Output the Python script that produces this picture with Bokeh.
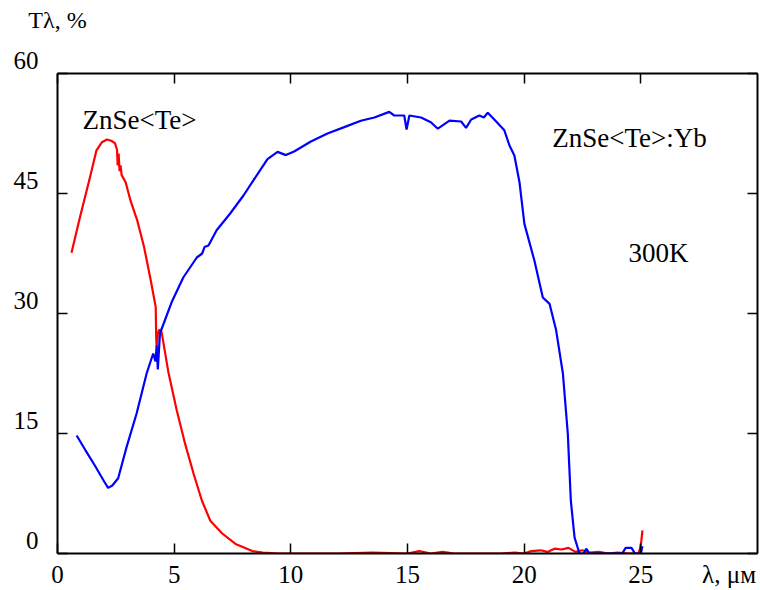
from bokeh.plotting import figure
from bokeh.models import Range1d, LinearAxis, Label, FixedTicker, CustomJSTickFormatter
from bokeh.embed import file_html
from bokeh.resources import INLINE

# ZnSe<Te> (red)
x_red = [0.6, 0.96, 1.39, 1.67, 1.9, 2.12, 2.3, 2.46, 2.55, 2.58, 2.62, 2.66, 2.7, 2.75, 2.92,
         3.13, 3.42, 3.71, 4.0, 4.21, 4.23, 4.25, 4.3, 4.36, 4.46, 4.75, 5.11, 5.47, 5.83, 6.19,
         6.55, 7.06, 7.63, 8.35, 8.8, 9.5, 10.5, 12.0, 13.5, 15.0, 15.5, 16.0, 16.5, 17.0, 18.0,
         19.0, 19.6, 20.0, 20.3, 20.7, 21.0, 21.3, 21.6, 21.9, 22.2, 22.5, 22.8, 23.2, 23.6, 24.0,
         24.5, 24.9, 25.0, 25.07]
y_red = [37.6, 42.0, 47.0, 50.4, 51.4, 51.75, 51.6, 51.3, 50.5, 48.5, 50.0, 47.8, 48.5, 47.3, 46.4,
         44.1, 41.6, 38.3, 34.1, 30.8, 27.0, 25.8, 27.5, 28.0, 27.7, 22.7, 17.9, 13.7, 10.0, 6.6,
         4.1, 2.5, 1.2, 0.3, 0.1, 0.0, 0.0, 0.0, 0.1, 0.0, 0.3, 0.0, 0.2, 0.0, 0.0,
         0.0, 0.1, 0.0, 0.3, 0.4, 0.2, 0.6, 0.5, 0.7, 0.2, 0.4, 0.1, 0.2, 0.0, 0.1,
         0.0, 0.0, 1.0, 2.9]

# ZnSe<Te>:Yb (blue)
x_blue = [0.82, 1.2, 1.6, 2.0, 2.17, 2.35, 2.6, 2.96, 3.39, 3.82, 4.1, 4.2, 4.25, 4.3, 4.35,
          4.39, 4.89, 5.39, 5.97, 6.2, 6.3, 6.47, 6.82, 7.4, 7.97, 8.43, 9.0, 9.43, 9.79, 10.14,
          10.86, 11.57, 12.29, 13.0, 13.58, 14.22, 14.43, 14.86, 14.96, 15.08, 15.58, 16.0, 16.3, 16.8, 17.3,
          17.51, 17.73, 18.08, 18.27, 18.44, 18.72, 19.15, 19.37, 19.58, 19.8, 20.01, 20.44, 20.8, 21.09, 21.37,
          21.66, 21.87, 22.0, 22.16, 22.37, 22.55, 22.66, 22.8, 23.5, 24.2, 24.35, 24.6, 24.75, 25.0, 25.07]
y_blue = [14.75, 12.9, 11.0, 9.0, 8.2, 8.5, 9.4, 13.3, 17.5, 22.5, 25.0, 24.0, 26.0, 23.0, 25.5,
          27.5, 31.4, 34.5, 37.0, 37.5, 38.3, 38.5, 40.4, 42.5, 44.75, 46.8, 49.3, 50.2, 49.8, 50.25,
          51.5, 52.5, 53.3, 54.1, 54.5, 55.2, 54.75, 54.75, 53.0, 54.75, 54.5, 53.9, 53.1, 54.1, 54.0,
          53.2, 54.25, 54.75, 54.5, 55.1, 54.25, 52.9, 51.0, 49.75, 46.4, 41.2, 36.6, 32.0, 31.2, 27.9,
          22.5, 15.0, 6.6, 2.0, 0.0, 0.0, 0.6, 0.0, 0.0, 0.0, 0.7, 0.7, 0.0, 0.0, 0.9]

x_ticks = [0, 5, 10, 15, 20, 25]
y_ticks = [0, 15, 30, 45, 60]
x_title = "λ, μм"
y_title = "Tλ, %"

FONT = "Liberation Serif"
X_TITLE_AT = 28.78   # where the x title sits on the tick-label line

p = figure(width=760, height=590, x_range=Range1d(0, 30), y_range=Range1d(0, 60),
           output_backend="svg", toolbar_location=None,
           min_border_left=57, min_border_right=3, min_border_top=73, min_border_bottom=37)
p.xgrid.visible = False
p.ygrid.visible = False
p.outline_line_color = None
p.background_fill_color = "white"
p.border_fill_color = "white"

# frame axes: bottom (ticks only), top, right; plus a bottom axis that carries the labels
p.add_layout(LinearAxis(), "above")
p.add_layout(LinearAxis(), "right")
xlab = LinearAxis()
p.add_layout(xlab, "below")

for ax in p.xaxis:
    ax.ticker = FixedTicker(ticks=x_ticks)
for ax in p.yaxis:
    ax.ticker = FixedTicker(ticks=y_ticks)

for ax in p.xaxis + p.yaxis:
    ax.axis_line_color = "black"
    ax.axis_line_width = 2
    ax.major_tick_line_color = "black"
    ax.major_tick_line_width = 1.5
    ax.major_tick_in = 10
    ax.major_tick_out = 0
    ax.minor_tick_line_color = None
    ax.major_label_text_font = FONT
    ax.major_label_text_color = "black"

for ax, ticks in ((p.above[0], x_ticks), (p.right[0], y_ticks), (p.below[0], x_ticks)):
    ax.major_label_overrides = {t: "" for t in ticks}
    ax.major_label_text_color = None
    ax.major_label_standoff = 0

# y title as the top axis' label, centred on the frame's left edge
xt = p.above[0]
xt.axis_label = y_title
xt.axis_label_text_font = FONT
xt.axis_label_text_font_size = "24px"
xt.axis_label_text_font_style = "normal"
xt.axis_label_text_color = "black"
xt.axis_label_standoff = 41
xt.axis_label_align = "start"

# label axis below: numbers plus the x title on the same line
xlab.ticker = FixedTicker(ticks=x_ticks + [X_TITLE_AT])
xlab.major_label_overrides = {X_TITLE_AT: x_title}
xlab.axis_line_color = None
xlab.major_tick_line_color = None
xlab.major_tick_in = 0
xlab.major_tick_out = 0
xlab.major_label_text_font_size = "25px"
xlab.major_label_standoff = 7

yl = p.left[0]
yl.major_label_text_font_size = "25px"
yl.major_label_standoff = 19
yl.major_label_text_line_height = 1.0
yl.formatter = CustomJSTickFormatter(code="return String(tick) + '\\n';")

p.line(x_red, y_red, line_color="#ff0000", line_width=2.2)
p.line(x_blue, y_blue, line_color="#0000ff", line_width=2.2)

def lab(x, y, t, size="27px"):
    p.add_layout(Label(x=x, y=y, text=t, text_font=FONT, text_font_size=size,
                       text_color="black", text_baseline="alphabetic", text_align="left"))

lab(1.07, 54.2, "ZnSe<Te>")
lab(21.2, 51.9, "ZnSe<Te>:Yb")
lab(24.47, 37.6, "300K")

open("out.html", "w").write(file_html(p, INLINE))
